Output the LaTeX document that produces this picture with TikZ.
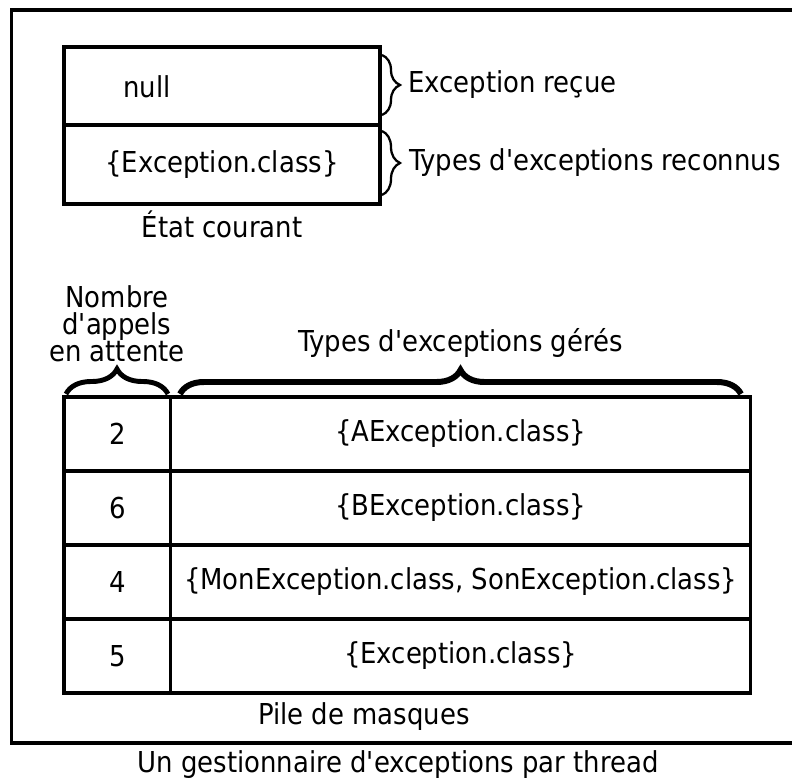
\documentclass[tikz,border=0pt]{standalone}
\usepackage{fontspec}
\setmainfont{DejaVu Sans Condensed}
\usetikzlibrary{positioning,decorations.pathreplacing}

\tikzset{
  txt/.style={font=\fontsize{16.4}{15.2}\selectfont, inner sep=0pt},
  cell/.style={draw, line width=2pt, outer sep=0pt, inner sep=0pt, anchor=north west, txt},
  brace/.style={decorate, decoration={brace, amplitude=#1}},
}
\newcommand{\q}{\textquotesingle}

\begin{document}
\begin{tikzpicture}[x=0.02cm, y=-0.02cm]
    \useasboundingbox (0,0) rectangle (792,778);
    \draw[line width=2pt] (11.5,10) rectangle (810,743);

    % etat courant
    \node[cell, minimum width=6.32cm, minimum height=1.56cm] (recue) at (64,47) {};
    \node[cell, minimum width=6.32cm, minimum height=1.58cm] (reconnus) at (64,125) {\{Exception.class\}};
    \node[txt] (null) at (147,87) {null};
    \node[txt] (etat) at (222,224) {État courant};

    \coordinate (b1a) at (382,55);  \coordinate (b1b) at (382,115);
    \coordinate (b2a) at (382,131); \coordinate (b2b) at (382,195);
    \draw[brace=0.36cm, line width=1.3pt] (b1a) -- (b1b) node[txt, midway, right=0.5cm] (lrecue) {Exception reçue};
    \draw[brace=0.36cm, line width=1.3pt] (b2a) -- (b2b) node[txt, midway, right=0.52cm] (lreconnus) {Types d\q exceptions reconnus};

    % pile de masques
    \foreach \n/\types [count=\i from 0] in {2/{\{AException.class\}}, 6/{\{BException.class\}},
        4/{\{MonException.class, SonException.class\}}, 5/{\{Exception.class\}}}{
      \node[cell, minimum width=2.134cm, minimum height=1.48cm] (nb\i) at (64,{397+74*\i}) {\n};
      \node[cell, minimum width=11.6cm, minimum height=1.48cm, right=0pt of nb\i] (types\i) {\types};
    }
    \node[txt] (pile) at (364,717) {Pile de masques};

    \coordinate (b3a) at (66,394);  \coordinate (b3b) at (168,394);
    \coordinate (b4a) at (180,394); \coordinate (b4b) at (741,394);
    \draw[brace=0.5cm, line width=2.8pt] (b3a) -- (b3b) node[txt, midway, above=0.6cm, align=center] (lnombre) {Nombre\\d\q appels\\en attente};
    \draw[brace=0.48cm, line width=3.4pt] (b4a) -- (b4b) node[txt, midway, above=0.68cm] (lgeres) {Types d\q exceptions gérés};

    \node[txt] (titre) at (398,765) {Un gestionnaire d\q exceptions par thread};
\end{tikzpicture}
\end{document}
